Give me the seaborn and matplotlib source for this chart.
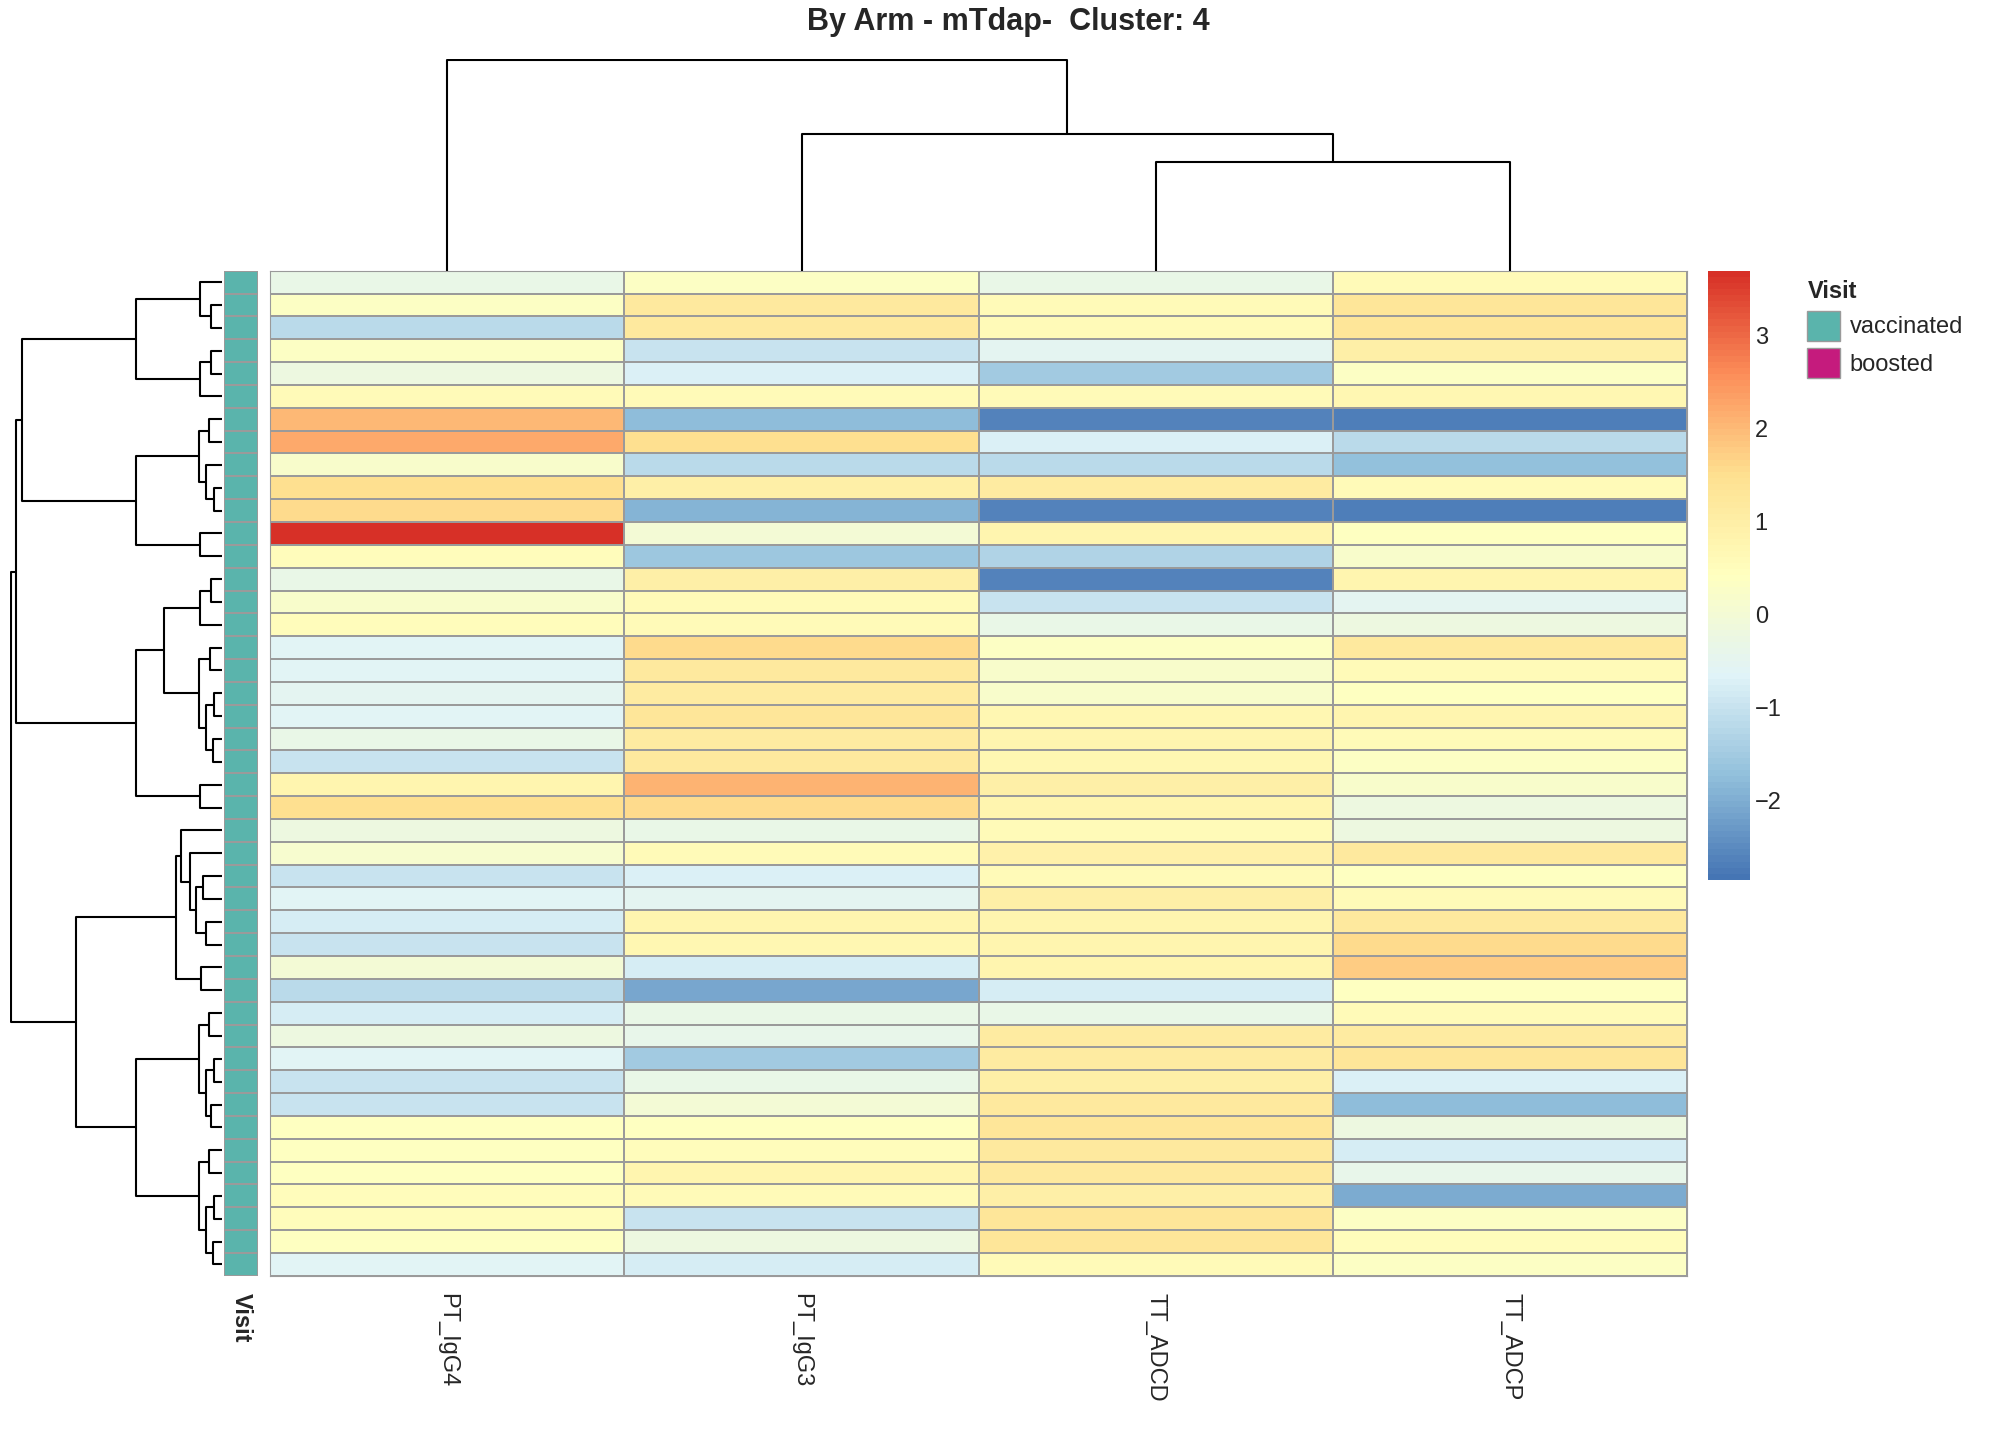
import matplotlib
matplotlib.use("Agg")
import matplotlib.pyplot as plt
import seaborn as sns
import numpy as np
import pandas as pd
from matplotlib.colors import LinearSegmentedColormap, ListedColormap
from matplotlib.patches import Patch

sns.set_style("white")
plt.rcParams['font.family'] = ['Liberation Sans', 'DejaVu Sans']

features = ["PT_IgG4", "PT_IgG3", "TT_ADCD", "TT_ADCP"]

pt_igg4 = [-0.3, 0.3, -1.2, 0.3, -0.2, 0.6, 2.0, 2.2, 0.2, 1.5, 1.6, 3.7, 0.5, -0.3, 0.2,
           0.5, -0.6, -0.6, -0.5, -0.6, -0.3, -1.0, 0.8, 1.5, -0.2, 0.1, -1.0, -0.6, -0.8,
           -1.0, 0.0, -1.2, -0.8, -0.2, -0.6, -1.0, -1.0, 0.4, 0.4, 0.4, 0.5, 0.5, 0.4, -0.6]
pt_igg3 = [0.3, 1.2, 1.2, -1.0, -0.7, 0.6, -1.8, 1.5, -1.2, 1.0, -1.9, 0.0, -1.6, 1.0, 0.6,
           0.6, 1.6, 1.2, 1.1, 1.3, 1.1, 1.2, 2.1, 1.6, -0.3, 0.6, -0.7, -0.5, 0.8,
           0.7, -0.8, -2.1, -0.3, -0.4, -1.5, -0.3, 0.0, 0.4, 0.5, 0.8, 0.6, -1.0, -0.2, -0.8]
tt_adcd = [-0.3, 0.6, 0.6, -0.5, -1.5, 0.6, -2.6, -0.7, -1.2, 1.1, -2.6, 0.8, -1.3, -2.6, -1.0,
           -0.3, 0.3, 0.2, 0.2, 0.7, 0.8, 0.7, 1.0, 0.8, 0.6, 0.9, 0.6, 1.0, 0.8,
           0.8, 0.8, -0.8, -0.3, 1.1, 1.1, 1.0, 1.2, 1.3, 1.2, 1.2, 1.0, 1.3, 1.3, 0.6]
tt_adcp = [0.6, 1.3, 1.3, 1.0, 0.3, 0.7, -2.7, -1.2, -1.7, 0.6, -2.7, 0.4, 0.2, 0.8, -0.5,
           -0.2, 1.2, 0.6, 0.4, 0.8, 0.6, 0.3, 0.2, -0.2, -0.2, 1.2, 0.4, 0.6, 1.2,
           1.6, 1.8, 0.4, 0.6, 1.1, 1.3, -0.7, -1.8, -0.2, -0.8, -0.4, -2.0, 0.3, 0.5, 0.3]
visit = ["vaccinated"] * 44

# dendrogram trees: [height, left, right], leaves are row/column indices
row_tree = [16.4,
            [16.0,
             [15.6,
              [6.7, [1.7, 0, [0.8, 1, 2]], [1.7, [0.8, 3, 4], 5]],
              [6.7, [1.8, [1.0, 6, 7], [1.2, 8, [0.6, 9, 10]]], [1.7, 11, 12]]],
             [6.7, [4.5, [1.7, [0.8, 13, 14], 15], [1.8, [0.9, 16, 17], [1.2, [0.6, 18, 19], [0.7, 20, 21]]]],
              [1.7, 22, 23]]],
            [11.4,
             [3.6, [3.2, 24, [2.5, 25, [2.0, [1.5, 26, 27], [1.2, 28, 29]]]], [1.6, 30, 31]],
             [6.7, [1.8, [1.0, 32, 33], [1.2, [0.6, 34, 35], [0.8, 36, 37]]],
              [1.8, [1.0, 38, 39], [1.2, [0.6, 40, 41], [0.7, 42, 43]]]]]]
col_tree = [16.2, 0, [10.5, 1, [8.4, 2, 3]]]

data = pd.DataFrame({"PT_IgG4": pt_igg4, "PT_IgG3": pt_igg3,
                     "TT_ADCD": tt_adcd, "TT_ADCP": tt_adcp})

cmap = LinearSegmentedColormap.from_list(
    "pheat", ["#4575B4", "#91BFDB", "#E0F3F8", "#FFFFBF", "#FEE090", "#FC8D59", "#D73027"], N=100)


def draw_tree(ax, node, vertical):
    if not isinstance(node, list):
        return node + 0.5, 0.0
    h, left, right = node
    p1, h1 = draw_tree(ax, left, vertical)
    p2, h2 = draw_tree(ax, right, vertical)
    xs = [p1, p1, p2, p2]
    ys = [h1, h, h, h2]
    if vertical:
        ax.plot(ys, xs, color="black", lw=1.5)
    else:
        ax.plot(xs, ys, color="black", lw=1.5)
    return (p1 + p2) / 2, h


fig = plt.figure(figsize=(20.16, 14.4), dpi=100)
ax_hm = fig.add_axes([0.134, 0.114, 0.703, 0.698])
ax_rd = fig.add_axes([0.005, 0.114, 0.105, 0.698])
ax_an = fig.add_axes([0.111, 0.114, 0.017, 0.698])
ax_cd = fig.add_axes([0.134, 0.812, 0.703, 0.147])
ax_cb = fig.add_axes([0.847, 0.389, 0.021, 0.423])

sns.heatmap(data, ax=ax_hm, cmap=cmap, vmin=-2.85, vmax=3.7, linewidths=1.2,
            linecolor="#9a9a9a", cbar_ax=ax_cb, yticklabels=False)
ax_hm.tick_params(axis="x", length=0, labelsize=17, pad=12)
ax_hm.set_xticklabels(features, rotation=-90)
for s in ax_hm.spines.values():
    s.set_visible(True)
    s.set_color("#9a9a9a")
ax_cb.tick_params(labelsize=17, length=0)
ax_cb.set_yticks([-2, -1, 0, 1, 2, 3])
for s in ax_cb.spines.values():
    s.set_visible(False)

ann = pd.DataFrame({"Visit": [0 if v == "vaccinated" else 1 for v in visit]})
sns.heatmap(ann, ax=ax_an, cmap=ListedColormap(["#5AB4AC", "#C51B7D"]), vmin=0, vmax=1,
            cbar=False, linewidths=1.2, linecolor="#9a9a9a", yticklabels=False)
ax_an.set_xticklabels(["Visit"], rotation=-90, fontweight="bold", fontsize=17)
ax_an.tick_params(axis="x", length=0, pad=12)

draw_tree(ax_rd, row_tree, vertical=True)
ax_rd.set_ylim(44, 0)
ax_rd.set_xlim(16.5, 0)
ax_rd.set_axis_off()

draw_tree(ax_cd, col_tree, vertical=False)
ax_cd.set_xlim(0, 4)
ax_cd.set_ylim(0, 16.3)
ax_cd.set_axis_off()

fig.suptitle("By Arm - mTdap-  Cluster: 4", fontsize=22, fontweight="bold", y=0.995)
handles = [Patch(facecolor="#5AB4AC", edgecolor="#9a9a9a", label="vaccinated"),
           Patch(facecolor="#C51B7D", edgecolor="#9a9a9a", label="boosted")]
leg = fig.legend(handles=handles, title="Visit", loc="upper left", bbox_to_anchor=(0.886, 0.82),
                 frameon=False, fontsize=17, title_fontsize=17, handlelength=1.4, handleheight=1.6,
                 handletextpad=0.4, labelspacing=0.3)
leg.get_title().set_fontweight("bold")
leg._legend_box.align = "left"

fig.savefig("out.png")
